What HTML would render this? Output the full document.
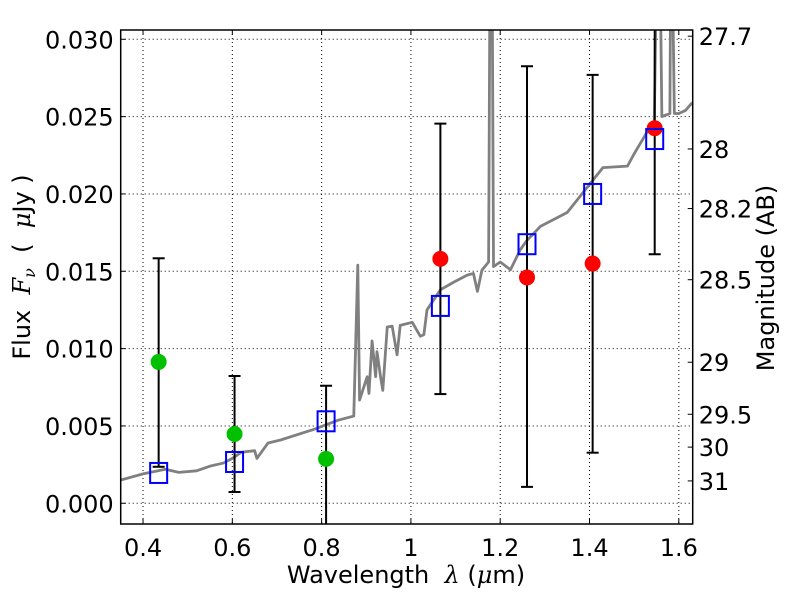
<!DOCTYPE html>
<html><head><meta charset="utf-8">
<style>
body{margin:0;background:#fff;}
svg{display:block;font-family:"DejaVu Sans","Liberation Sans",sans-serif;}
text{white-space:pre;}
</style></head>
<body>
<svg id="chart" width="800" height="600" viewBox="0 0 800 600"></svg>
<script>
const xTicks=[0.4,0.6,0.8,1.0,1.2,1.4,1.6];
const xTickLabels=["0.4","0.6","0.8","1","1.2","1.4","1.6"];
const yTicks=[0,0.005,0.010,0.015,0.020,0.025,0.030];
const yTickLabels=["0.000","0.005","0.010","0.015","0.020","0.025","0.030"];
const magTicks=[27.7,28,28.2,28.5,29,29.5,30,31];
const magTickLabels=["27.7","28","28.2","28.5","29","29.5","30","31"];
const specLam=[0.35,0.4,0.45,0.48,0.52,0.55,0.58,0.6,0.62,0.65,0.655,0.68,0.708,0.783,0.838,0.872,0.881,0.885,0.902,0.906,0.913,0.921,0.924,0.932,0.937,0.947,0.958,0.969,0.976,1.003,1.021,1.029,1.036,1.066,1.096,1.126,1.140,1.149,1.159,1.174,1.178,1.181,1.185,1.2,1.223,1.245,1.26,1.29,1.35,1.43,1.485,1.5,1.535,1.545,1.553,1.556,1.562,1.58,1.583,1.59,1.6,1.615,1.63];
const specFlux=[1.5,1.9,2.2,2.0,2.1,2.4,2.6,2.9,3.3,3.4,2.9,3.9,4.09,4.78,5.38,5.64,15.4,6.67,8.18,7.1,10.5,8.18,9.8,8.18,7.3,11.4,11.45,9.6,11.5,11.7,10.8,10.9,12.5,13.8,14.3,14.75,14.86,13.7,15.07,15.6,40,40,15.3,15.6,15.1,16.4,17.0,17.9,18.8,21.7,21.8,22.6,24.3,24.6,40,40,25.0,25.2,40,25.2,25.2,25.4,25.9];
const photLam=[0.435,0.605,0.81,1.066,1.26,1.407,1.546];
const modelFlux=[1.96,2.67,5.3,12.76,16.75,20.0,23.55];
const errHigh=[15.84,8.23,7.6,24.55,28.26,27.7,32];
const errLow=[2.36,0.73,-3,7.06,1.06,3.27,16.1];
const greenLam=[0.435,0.605,0.81];
const greenFlux=[9.14,4.48,2.87];
const redLam=[1.066,1.26,1.407,1.546];
const redFlux=[15.8,14.6,15.5,24.25];

const L=120.7,R=692.7,T=30,B=524;
const xMin=0.35,xMax=1.6311,yMin=-1.34,yMax=30.6;
const X=v=>L+(v-xMin)/(xMax-xMin)*(R-L);
const Y=v=>B-(v-yMin)/(yMax-yMin)*(B-T);
const NS="http://www.w3.org/2000/svg";
const svg=document.getElementById('chart');
function mk(tag,attrs,parent){const e=document.createElementNS(NS,tag);for(const k in attrs)e.setAttribute(k,attrs[k]);(parent||svg).appendChild(e);return e;}

const defs=mk('defs',{});const cp=mk('clipPath',{id:'clip'},defs);mk('rect',{x:L,y:T,width:R-L,height:B-T},cp);

const grid=mk('g',{});


xTicks.forEach((t,i)=>{
  const gl=mk('line',{x1:X(t),x2:X(t),y1:T,y2:B,stroke:'#000','stroke-width':1,'stroke-dasharray':'1,3'},grid);
  
  
  mk('line',{x1:X(t),x2:X(t),y1:B,y2:B-5,stroke:'#000'},grid);
  mk('line',{x1:X(t),x2:X(t),y1:T,y2:T+5,stroke:'#000'},grid);
  const tx=mk('text',{x:X(t),y:B+32,'font-size':24,'text-anchor':'middle'});
  tx.textContent=xTickLabels[i];
  
  
});
yTicks.forEach((t,i)=>{
  const v=t*1000;
  const gl=mk('line',{x1:L,x2:R,y1:Y(v),y2:Y(v),stroke:'#000','stroke-width':1,'stroke-dasharray':'1,3'},grid);
  
  
  mk('line',{x1:L,x2:L+5,y1:Y(v),y2:Y(v),stroke:'#000'},grid);
  const tx=mk('text',{x:L-7,y:Y(v)+9,'font-size':24,'text-anchor':'end'});
  tx.textContent=yTickLabels[i];
  
  
});
magTicks.forEach((m,i)=>{
  const f=Math.pow(10,(23.9-m)/2.5)*1000;
  const yy=Math.max(Y(f),T+2);
  mk('line',{x1:R-5,x2:R,y1:yy,y2:yy,stroke:'#000'});
  const tx=mk('text',{x:R+6,y:yy+9,'font-size':24});
  tx.textContent=magTickLabels[i];
  
  
});

const plot=mk('g',{'clip-path':'url(#clip)'});
const sp=mk('polyline',{points:specLam.map((l,i)=>X(l)+','+Y(specFlux[i])).join(' '),fill:'none',stroke:'#808080','stroke-width':2.8,'stroke-linejoin':'round'},plot);



photLam.forEach((l,i)=>{
  const x=X(l);
  const eb=mk('line',{x1:x,x2:x,y1:Y(errHigh[i]),y2:Y(errLow[i]),stroke:'#000','stroke-width':2},plot);
  
  
  [errHigh[i],errLow[i]].forEach(v=>mk('line',{x1:x-6,x2:x+6,y1:Y(v),y2:Y(v),stroke:'#000','stroke-width':2},plot));
});
greenLam.forEach((l,i)=>{
  const c=mk('circle',{cx:X(l),cy:Y(greenFlux[i]),r:8,fill:'#00c000'},plot);
  
  
});
redLam.forEach((l,i)=>{
  const c=mk('circle',{cx:X(l),cy:Y(redFlux[i]),r:8,fill:'#ff0000'},plot);
  
  
});
photLam.forEach((l,i)=>{
  const s=mk('rect',{x:X(l)-8.5,y:Y(modelFlux[i])-10,width:17,height:20,fill:'none',stroke:'#0000ff','stroke-width':2},plot);
  
  
});

const frame=mk('rect',{x:L,y:T,width:R-L,height:B-T,fill:'none',stroke:'#000','stroke-width':1.5});



function t(attrs,html){const e=document.createElementNS(NS,'text');for(const k in attrs)e.setAttribute(k,attrs[k]);e.innerHTML=html;svg.appendChild(e);return e;}
const xl=t({x:406,y:583,'font-size':24,'text-anchor':'middle'},'Wavelength  <tspan font-style="italic" font-family="DejaVu Serif">λ</tspan> (<tspan font-style="italic" font-family="DejaVu Serif">μ</tspan>m)');


const yl=t({x:0,y:0,'font-size':24,'text-anchor':'middle',transform:'translate(30,267) rotate(-90)'},'Flux  <tspan font-style="italic" font-family="DejaVu Serif">F</tspan><tspan font-style="italic" font-family="DejaVu Serif" font-size="16" dy="5">ν</tspan><tspan dy="-5">  (  </tspan><tspan font-style="italic" font-family="DejaVu Serif">μ</tspan>Jy )');


const ml=t({x:0,y:0,'font-size':24,'text-anchor':'middle',transform:'translate(774,278) rotate(-90)'},'Magnitude (AB)');


</script>
</body></html>
